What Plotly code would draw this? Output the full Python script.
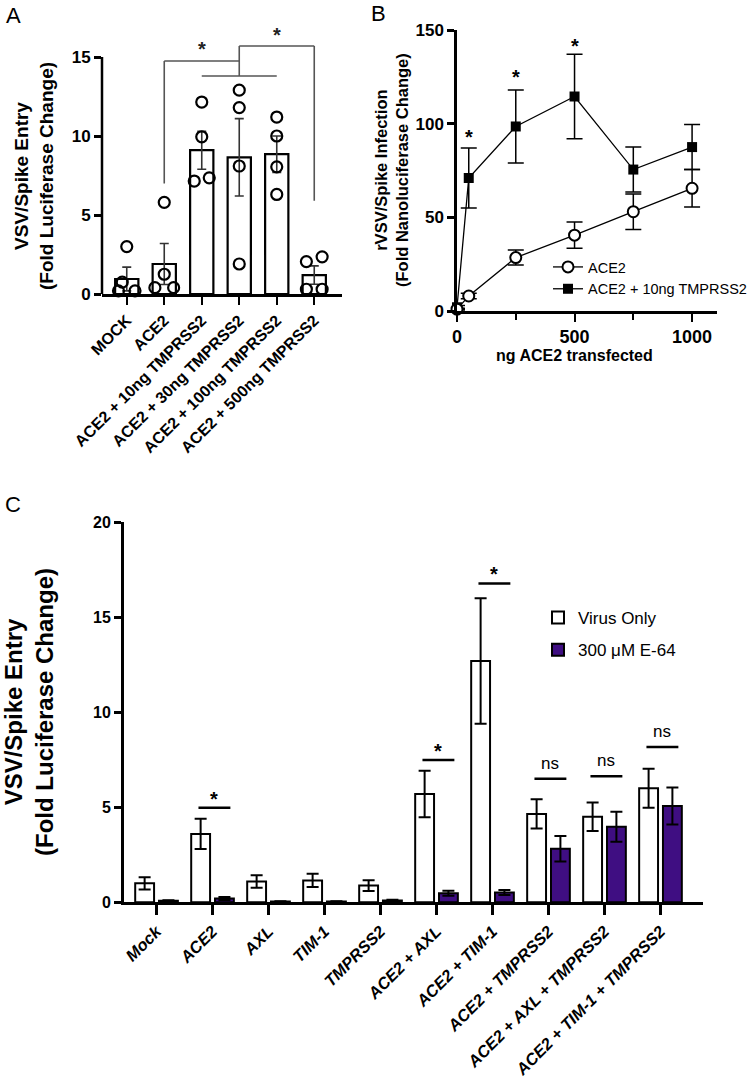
import plotly.graph_objects as go

W, H = 754, 1087
FONT = "Arial, Liberation Sans, sans-serif"
PURPLE = "#3f0e82"


def px(x):
    return x / W


def py(y):
    return 1 - y / H


# ---------------- Panel A data ----------------
a_cats = ["MOCK", "ACE2", "ACE2 + 10ng TMPRSS2", "ACE2 + 30ng TMPRSS2",
          "ACE2 + 100ng TMPRSS2", "ACE2 + 500ng TMPRSS2"]
a_means = [0.95, 1.9, 9.1, 8.65, 8.85, 1.2]
a_sem = [0.75, 1.3, 1.2, 2.45, 1.15, 0.58]
a_points = [[3.0, 0.75, 0.2, 0.2],
            [5.8, 1.25, 0.4, 0.4],
            [12.15, 9.95, 7.15, 7.35],
            [12.9, 11.8, 8.1, 1.9],
            [11.2, 10.0, 8.05, 6.3],
            [2.35, 2.05, 0.3, 0.3]]
a_jitter = [[0, -0.12, -0.22, 0.22],
            [0, 0, -0.25, 0.25],
            [0, 0, -0.2, 0.2],
            [0, 0, 0, 0],
            [0, 0, 0, 0],
            [0.21, -0.21, -0.21, 0.21]]

# ---------------- Panel B data ----------------
b_x = [0, 50, 250, 500, 750, 1000]
b_ace2 = [1, 8, 28.5, 40.5, 53, 65.5]
b_ace2_err = [0.5, 1.5, 4, 7, 9.5, 10]
b_tmp = [2, 71, 98.5, 114.5, 75.5, 87.5]
b_tmp_err = [1, 16, 19.5, 22.5, 12, 12]
b_star_x = [50, 250, 500]
b_star_y = [95.6, 127.4, 144]

# ---------------- Panel C data ----------------
c_cats = ["Mock", "ACE2", "AXL", "TIM-1", "TMPRSS2", "ACE2 + AXL", "ACE2 + TIM-1",
          "ACE2 + TMPRSS2", "ACE2 + AXL + TMPRSS2", "ACE2 + TIM-1 + TMPRSS2"]
c_virus = [1.0, 3.6, 1.1, 1.15, 0.88, 5.7, 12.7, 4.65, 4.5, 6.0]
c_virus_err = [0.32, 0.8, 0.33, 0.35, 0.28, 1.22, 3.3, 0.77, 0.75, 1.03]
c_e64 = [0.08, 0.2, 0.04, 0.04, 0.1, 0.48, 0.52, 2.82, 3.98, 5.07]
c_e64_err = [0.03, 0.08, 0.02, 0.02, 0.04, 0.13, 0.13, 0.67, 0.79, 0.97]
c_sig_groups = [1, 5, 6, 7, 8, 9]
c_sig_labels = ["*", "*", "*", "ns", "ns", "ns"]
c_sig_heights = [4.98, 7.49, 16.78, 6.5, 6.63, 8.17]

fig = go.Figure()

# ---- Panel A ----
a_idx = list(range(len(a_cats)))
fig.add_trace(go.Bar(
    x=a_idx, y=a_means, width=0.62, xaxis="x", yaxis="y",
    marker=dict(color="white", line=dict(color="black", width=2.2)),
    error_y=dict(type="data", array=a_sem, color="#333333", thickness=1.6, width=4.5),
    showlegend=False))
px_a, py_a = [], []
for i, (pts, jit) in enumerate(zip(a_points, a_jitter)):
    for v, j in zip(pts, jit):
        px_a.append(i + j)
        py_a.append(v)
fig.add_trace(go.Scatter(
    x=px_a, y=py_a, mode="markers", xaxis="x", yaxis="y",
    marker=dict(symbol="circle-open", size=11, color="black", line=dict(width=2.2)),
    cliponaxis=False, showlegend=False))

# ---- Panel B ----
fig.add_trace(go.Scatter(
    x=b_x, y=b_tmp, mode="lines+markers", name="ACE2 + 10ng TMPRSS2",
    xaxis="x2", yaxis="y2", legend="legend2",
    line=dict(color="black", width=1.3),
    marker=dict(symbol="square", size=10, color="black"),
    error_y=dict(type="data", array=b_tmp_err, color="black", thickness=1.5, width=8),
    cliponaxis=False))
fig.add_trace(go.Scatter(
    x=b_x, y=b_ace2, mode="lines+markers", name="ACE2",
    xaxis="x2", yaxis="y2", legend="legend2",
    line=dict(color="black", width=1.3),
    marker=dict(symbol="circle", size=11, color="white", line=dict(color="black", width=2)),
    error_y=dict(type="data", array=b_ace2_err, color="black", thickness=1.5, width=8),
    cliponaxis=False))

# ---- Panel C ----
c_idx = list(range(len(c_cats)))
fig.add_trace(go.Bar(
    x=c_idx, y=c_virus, width=0.337, offset=-0.38, name="Virus Only",
    xaxis="x3", yaxis="y3", legend="legend", legendgroup="v",
    marker=dict(color="white", line=dict(color="black", width=2)),
    error_y=dict(type="data", array=c_virus_err, color="black", thickness=2, width=6)))
fig.add_trace(go.Bar(
    x=c_idx, y=c_e64, width=0.337, offset=0.045, name="300 μM E-64",
    xaxis="x3", yaxis="y3", legend="legend", legendgroup="e",
    marker=dict(color=PURPLE, line=dict(color="black", width=2)),
    error_y=dict(type="data", array=c_e64_err, color="black", thickness=2, width=6)))

shapes = []
annotations = []

# Panel A manual y-axis line (stops at 15)
shapes.append(dict(type="line", xref="paper", yref="y", x0=px(102), x1=px(102), y0=0, y1=15,
                   line=dict(color="black", width=2.5)))
# Panel A brackets
br = dict(color="#555555", width=1.6)
for (x0, y0, x1, y1) in [(1, 7.0, 1, 14.75), (1, 14.75, 3, 14.75), (3, 14.75, 3, 13.8),
                         (2, 13.8, 4, 13.8), (3, 14.75, 3, 15.7), (3, 15.7, 5, 15.7),
                         (5, 15.7, 5, 5.9)]:
    shapes.append(dict(type="line", xref="x", yref="y", x0=x0, y0=y0, x1=x1, y1=y1, line=br))
annotations.append(dict(x=2.0, y=15.5, xref="x", yref="y", text="<b>*</b>", showarrow=False,
                        font=dict(size=20, family=FONT, color="#222"),
                        xanchor="center", yanchor="middle"))
annotations.append(dict(x=4.0, y=16.42, xref="x", yref="y", text="<b>*</b>", showarrow=False,
                        font=dict(size=20, family=FONT, color="#222"),
                        xanchor="center", yanchor="middle"))

# Panel B stars
for xs, ys in zip(b_star_x, b_star_y):
    annotations.append(dict(x=xs, y=ys, xref="x2", yref="y2", text="<b>*</b>", showarrow=False,
                            font=dict(size=20, family=FONT, color="black"),
                            xanchor="center", yanchor="middle", yshift=-5))

# Panel C significance
for g, lab, h in zip(c_sig_groups, c_sig_labels, c_sig_heights):
    shapes.append(dict(type="line", xref="x3", yref="y3", x0=g - 0.25, x1=g + 0.32, y0=h, y1=h,
                       line=dict(color="black", width=2.5)))
    if lab == "*":
        annotations.append(dict(x=g + 0.03, y=h, xref="x3", yref="y3", text="<b>*</b>",
                                showarrow=False, xanchor="center", yanchor="bottom", yshift=-4,
                                font=dict(size=20, family=FONT, color="black")))
    else:
        annotations.append(dict(x=g + 0.03, y=h, xref="x3", yref="y3", text=lab,
                                showarrow=False, xanchor="center", yanchor="bottom", yshift=4,
                                font=dict(size=17, family=FONT, color="black")))


def pa(x, y, text, size, angle=0):
    annotations.append(dict(x=px(x), y=py(y), xref="paper", yref="paper", textangle=angle,
                            text=text, showarrow=False, xanchor="center", yanchor="middle",
                            font=dict(size=size, family=FONT, color="black")))


# Axis titles
pa(34, 176, "<b>VSV/Spike Entry<br>(Fold Luciferase Change)</b>", 19, -90)
pa(391, 170, "<b>rVSV/Spike Infection<br>(Fold Nanoluciferase Change)</b>", 16.5, -90)
pa(574, 355, "<b>ng ACE2 transfected</b>", 16)
pa(29, 712, "<b>VSV/Spike Entry<br>(Fold Luciferase Change)</b>", 24, -90)
# Panel letters
pa(13, 16, "A", 22)
pa(378, 13, "B", 22)
pa(13, 504, "C", 22)

common = dict(showgrid=False, zeroline=False, automargin=False, tickcolor="black",
              linecolor="black")


def tf(size, **kw):
    return dict(family=FONT, size=size, color="black", weight="bold", **kw)


fig.update_layout(
    width=W, height=H, margin=dict(l=0, r=0, t=0, b=0, autoexpand=False),
    paper_bgcolor="white", plot_bgcolor="white",
    barmode="overlay", font=dict(family=FONT, color="black"),
    shapes=shapes, annotations=annotations,
    xaxis=dict(domain=[px(102), px(342)], range=[-0.66, 5.74], anchor="y",
               tickvals=a_idx, ticktext=a_cats, tickangle=-45, tickfont=tf(16),
               showline=True, linewidth=2.5,
               ticks="outside", ticklen=8, tickwidth=2, **common),
    yaxis=dict(domain=[py(294), py(25.4)], range=[0, 17], anchor="x",
               tickvals=[0, 5, 10, 15], tickfont=tf(17),
               showline=False, ticks="outside", ticklen=7, tickwidth=2.5, **common),
    xaxis2=dict(domain=[px(457), px(717)], range=[0, 1106], anchor="y2",
                tickvals=[0, 500, 1000], tickfont=tf(18),
                minor=dict(tickvals=[250, 750], ticks="outside", ticklen=6, tickwidth=2,
                           tickcolor="black"),
                showline=True, linewidth=2.5,
                ticks="outside", ticklen=8, tickwidth=2, **common),
    yaxis2=dict(domain=[py(311), py(30)], range=[0, 150], anchor="x2",
                tickvals=[0, 50, 100, 150], tickfont=tf(17),
                showline=True, linewidth=2.5,
                ticks="outside", ticklen=7, tickwidth=2.5, **common),
    xaxis3=dict(domain=[px(124), px(703)], range=[-0.58, 9.76], anchor="y3",
                tickvals=c_idx, ticktext=c_cats, tickangle=-45, tickfont=tf(16.5, style="italic"),
                showline=True, linewidth=3,
                ticks="outside", ticklen=10, tickwidth=3, **common),
    yaxis3=dict(domain=[py(902.3), py(522.3)], range=[0, 20], anchor="x3",
                tickvals=[0, 5, 10, 15, 20], tickfont=tf(16),
                showline=True, linewidth=3,
                ticks="outside", ticklen=7, tickwidth=3, **common),
    legend=dict(x=px(538), y=py(600), xanchor="left", yanchor="top",
                font=dict(family=FONT, size=17, color="black"),
                bgcolor="rgba(0,0,0,0)", traceorder="grouped", tracegroupgap=7),
    legend2=dict(x=px(548), y=py(251), xanchor="left", yanchor="top",
                 font=dict(family=FONT, size=14.5, color="black"),
                 bgcolor="rgba(0,0,0,0)", traceorder="reversed"),
)

fig.write_html("out.html", config={"displayModeBar": False},
               post_script="document.body.style.margin='0';")
